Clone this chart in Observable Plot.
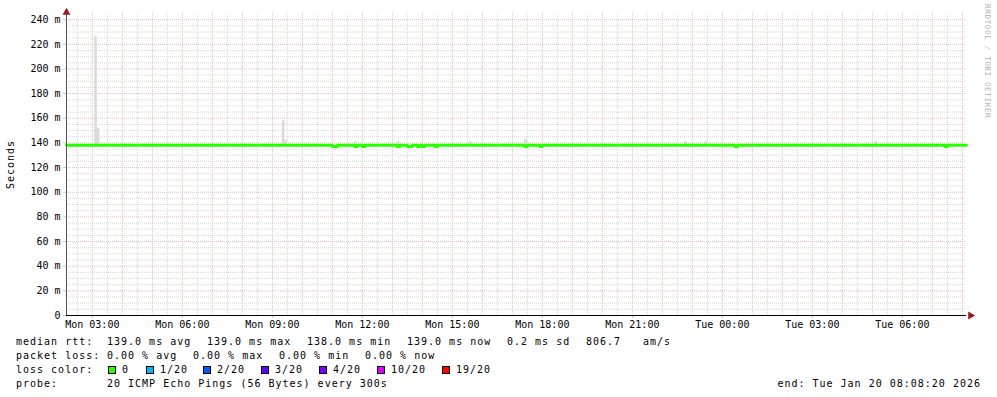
<!DOCTYPE html>
<html><head><meta charset="utf-8">
<script src="https://cdn.jsdelivr.net/npm/d3@7"></script>
<script src="https://cdn.jsdelivr.net/npm/@observablehq/plot@0.6"></script>
<style>
html,body{margin:0;padding:0;background:#fff;width:997px;height:397px;overflow:hidden;}
#wrap{position:relative;width:997px;height:397px;font-family:"DejaVu Sans Mono",monospace;color:#000;}
#chart svg{display:block;}
.legend{position:absolute;left:16px;top:335px;width:965px;font-size:10px;letter-spacing:1px;line-height:14px;white-space:pre;}
.row{height:14px;display:flex;align-items:center;position:relative;}
.lab{display:inline-block;width:91px;}
.f100{display:inline-block;width:100px;}
.f86{display:inline-block;width:86px;}
.item{display:inline-flex;align-items:center;}
.box{display:inline-block;width:8px;height:8px;box-sizing:border-box;border:1px solid #000;margin-right:6px;}
.end{position:absolute;right:0;}
.credit{position:absolute;left:983px;top:4px;writing-mode:vertical-rl;font-size:7.8px;letter-spacing:0.5px;color:#b4b4b4;white-space:pre;}
</style></head>
<body><div id="wrap"><div id="chart"></div><div class="credit">RRDTOOL / TOBI OETIKER</div><div class="legend" id="legend"></div></div>
<script>
const parse = d3.timeParse("%Y-%m-%d %H:%M:%S");
const startTime = parse("2026-01-19 02:08:20");
const endTime = parse("2026-01-20 08:08:20");

// median rtt (ms), step series: value holds from this time until the next
const rttTimes = [
  "2026-01-19 02:08:20","2026-01-19 11:00:00","2026-01-19 11:10:00","2026-01-19 11:45:00","2026-01-19 11:50:00",
  "2026-01-19 12:00:00","2026-01-19 12:05:00","2026-01-19 13:10:00","2026-01-19 13:15:00","2026-01-19 13:30:00",
  "2026-01-19 13:40:00","2026-01-19 13:50:00","2026-01-19 13:55:00","2026-01-19 14:00:00","2026-01-19 14:05:00",
  "2026-01-19 14:25:00","2026-01-19 14:30:00","2026-01-19 17:25:00","2026-01-19 17:30:00","2026-01-19 17:55:00",
  "2026-01-19 18:00:00","2026-01-20 00:25:00","2026-01-20 00:30:00","2026-01-20 07:25:00","2026-01-20 07:30:00",
  "2026-01-20 08:08:20"];
const rttMs = [139,138,139,138,139, 138,139,138,139,138, 139,138,139,138,139, 138,139,138,139,138, 139,138,139,138,139, 139];

// smoke (ping spread) intervals
const smokeStart = ["2026-01-19 03:05:00","2026-01-19 03:10:00","2026-01-19 09:20:00","2026-01-19 09:25:00","2026-01-19 11:45:00",
  "2026-01-19 13:10:00","2026-01-19 15:35:00","2026-01-19 17:25:00","2026-01-19 22:45:00","2026-01-19 23:25:00","2026-01-20 05:05:00"];
const smokeEnd = ["2026-01-19 03:10:00","2026-01-19 03:15:00","2026-01-19 09:25:00","2026-01-19 09:30:00","2026-01-19 11:50:00",
  "2026-01-19 13:15:00","2026-01-19 15:40:00","2026-01-19 17:30:00","2026-01-19 22:50:00","2026-01-19 23:30:00","2026-01-20 05:10:00"];
const smokeLowMs = [138,138,138,138,138,138,138,138,138,138,138];
const smokeHighMs = [226,152,158,142,141,141,141,143,141,141,141];

const yTicks = [0,20,40,60,80,100,120,140,160,180,200,220,240];
const xTickTimes = ["2026-01-19 03:00:00","2026-01-19 06:00:00","2026-01-19 09:00:00","2026-01-19 12:00:00","2026-01-19 15:00:00",
  "2026-01-19 18:00:00","2026-01-19 21:00:00","2026-01-20 00:00:00","2026-01-20 03:00:00","2026-01-20 06:00:00"];

const lossLabels = ["0","1/20","2/20","3/20","4/20","10/20","19/20"];
const lossColors = ["#26ff00","#00b8ff","#0059ff","#5e00ff","#7e00ff","#dd00ff","#ff0000"];
const lossItemWidths = [38,57,58,58,58,65,60];

const rttStats = ["139.0 ms avg","139.0 ms max","138.0 ms min","139.0 ms now"];
const lossStats = ["0.00 % avg","0.00 % max","0.00 % min","0.00 % now"];

const median = rttTimes.map((t,i)=>({t:parse(t), ms:rttMs[i]}));
const smoke = smokeStart.map((s,i)=>({t0:parse(s), t1:parse(smokeEnd[i]), lo:smokeLowMs[i], hi:smokeHighMs[i]}));
const xTicks = xTickTimes.map(parse);

const majorX = d3.timeHour.range(startTime, endTime);
const minorX = d3.timeMinute.every(30).range(startTime, endTime).filter(d => d.getMinutes() !== 0);
const majorY = yTicks.filter(d => d > 0);
const minorY = d3.range(5, 245, 5).filter(d => d % 20 !== 0);

const GRID = "#d8d8d8", MGRID = "#eab8b8", ARROW = "#9b1c1c";

const chart = Plot.plot({
  width: 997, height: 334,
  marginLeft: 66, marginRight: 31, marginTop: 13, marginBottom: 19,
  style: {fontFamily: "'DejaVu Sans Mono', monospace", fontSize: "10px", color: "#000", background: "transparent", overflow: "visible"},
  x: {type: "time", domain: [startTime, endTime]},
  y: {domain: [0, 245]},
  marks: [
    Plot.ruleY(minorY, {stroke: GRID, strokeDasharray: "1,1"}),
    Plot.ruleX(minorX, {stroke: GRID, strokeDasharray: "1,1", y1: 0, y2: 245}),
    Plot.ruleY(majorY, {stroke: MGRID, strokeDasharray: "1,1"}),
    Plot.ruleX(majorX, {stroke: MGRID, strokeDasharray: "1,1"}),
    Plot.rect(smoke, {x1: "t0", x2: "t1", y1: "lo", y2: "hi", fill: "#d9d9d9"}),
    Plot.line(median, {x: "t", y: "ms", curve: "step-after", stroke: "#26ff00", strokeWidth: 3, dy: 1}),
    Plot.axisX({ticks: xTicks, tickFormat: d3.timeFormat("%a %H:%M"), tickSize: 3, tickPadding: 2, label: null, stroke: MGRID}),
    Plot.axisY({ticks: yTicks, tickFormat: d => d === 0 ? "0" : `${d} m`, tickSize: 3, tickPadding: 3, stroke: MGRID,
      label: "Seconds", labelAnchor: "center", labelOffset: 60, labelArrow: "none"}),
    Plot.ruleX([startTime], {stroke: "#555"}),
    Plot.ruleY([0], {stroke: "#000"}),
    Plot.dot([{t: endTime, v: 0}], {x: "t", y: "v", symbol: "triangle", r: 3, fill: ARROW, stroke: null, rotate: 90, dx: 4}),
    Plot.dot([{t: startTime, v: 245}], {x: "t", y: "v", symbol: "triangle", r: 3, fill: ARROW, stroke: null, dy: -1})
  ]
});
document.getElementById("chart").appendChild(chart);
chart.querySelectorAll("g[aria-label='y-axis label'] text").forEach(t => t.setAttribute("letter-spacing", "1"));

// legend rows
const lg = document.getElementById("legend");
function row(html){ const d = document.createElement("div"); d.className = "row"; d.innerHTML = html; lg.appendChild(d); }
row(`<span class="lab">median rtt:</span>${rttStats.map(s=>`<span class="f100">${s}</span>`).join("")}<span style="display:inline-block;width:79px">0.2 ms sd</span><span style="display:inline-block;width:57px">806.7</span><span>am/s</span>`);
row(`<span class="lab">packet loss:</span>${lossStats.map(s=>`<span class="f86">${s}</span>`).join("")}`);
row(`<span class="lab" style="width:92px">loss color:</span>${lossLabels.map((l,i)=>`<span class="item" style="width:${lossItemWidths[i]}px"><span class="box" style="background:${lossColors[i]}"></span><span>${l}</span></span>`).join("")}`);
row(`<span class="lab">probe:</span><span>20 ICMP Echo Pings (56 Bytes) every 300s</span><span class="end">end: Tue Jan 20 08:08:20 2026</span>`);
</script></body></html>
